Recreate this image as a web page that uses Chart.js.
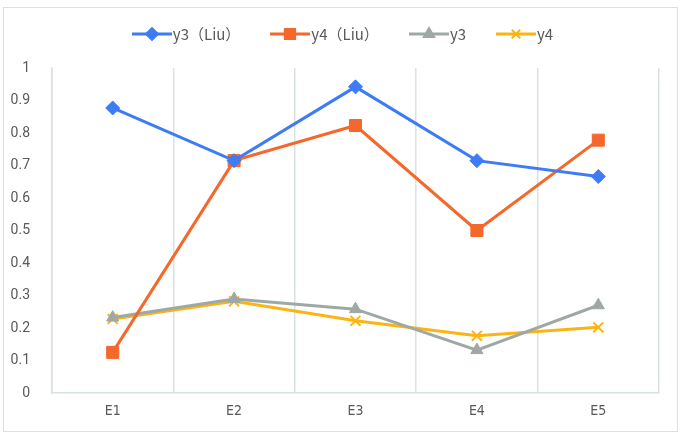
<!DOCTYPE html>
<html>
<head>
<meta charset="utf-8">
<script src="https://cdn.jsdelivr.net/npm/chart.js@4"></script>
<style>
  html, body { margin: 0; padding: 0; background: #fff; }
  #wrap { position: relative; width: 685px; height: 438px; }
  #frame { position: absolute; left: 3px; top: 7px; width: 675px; height: 425px;
           border: 1.5px solid #d9e2de; box-sizing: border-box; }
  #legend { position: absolute; top: 23px; left: 0; width: 685px; display: flex;
            justify-content: center; font-family: "Noto Sans CJK SC", "Noto Sans", sans-serif;
            font-size: 15px; color: #595959; }
  .item { display: flex; align-items: center; margin: 0 15px; }
  .item canvas { margin-right: 1px; }
</style>
</head>
<body>
<div id="wrap">
  <div id="frame"></div>
  <div id="legend"></div>
  <canvas id="chart" width="685" height="438"></canvas>
</div>
<script>
const categories = ['E1', 'E2', 'E3', 'E4', 'E5'];
const y3Liu = [0.877, 0.715, 0.942, 0.715, 0.666];
const y4Liu = [0.125, 0.715, 0.823, 0.500, 0.778];
const y3 = [0.232, 0.289, 0.258, 0.132, 0.270];
const y4 = [0.228, 0.282, 0.222, 0.176, 0.202];
const yTicks = [0, 0.1, 0.2, 0.3, 0.4, 0.5, 0.6, 0.7, 0.8, 0.9, 1];

const series = [
  { label: 'y3（Liu）', data: y3Liu, color: '#3d7cf5', style: 'rectRot', radius: 7 },
  { label: 'y4（Liu）', data: y4Liu, color: '#f4682c', style: 'rect', radius: 8.5 },
  { label: 'y3', data: y3, color: '#9ea9a5', style: 'triangle', radius: 7 },
  { label: 'y4', data: y4, color: '#fbb416', style: 'crossRot', radius: 7 }
];

// html legend: line with marker, then the text
const legendEl = document.getElementById('legend');
series.forEach(s => {
  const item = document.createElement('div');
  item.className = 'item';
  const c = document.createElement('canvas');
  c.width = 40; c.height = 16;
  const ctx = c.getContext('2d');
  ctx.strokeStyle = s.color;
  ctx.lineWidth = 3;
  ctx.beginPath(); ctx.moveTo(0, 8); ctx.lineTo(40, 8); ctx.stroke();
  ctx.fillStyle = s.color;
  ctx.lineWidth = 2;
  Chart.helpers.drawPoint(ctx, { pointStyle: s.style, radius: s.radius * 0.85, borderWidth: 2 }, 20, 8);
  if (s.style !== 'crossRot') ctx.fill();
  item.appendChild(c);
  const t = document.createElement('span');
  t.textContent = s.label;
  item.appendChild(t);
  legendEl.appendChild(item);
});

const tickFont = { family: 'Roboto, "Noto Sans", sans-serif', size: 14 };
const gridColor = '#d9e2de';

new Chart(document.getElementById('chart'), {
  type: 'line',
  data: {
    labels: categories,
    datasets: series.map(s => ({
      label: s.label,
      data: s.data,
      borderColor: s.color,
      backgroundColor: s.color,
      borderWidth: 3,
      pointStyle: s.style,
      pointRadius: s.radius,
      pointBorderWidth: s.style === 'crossRot' ? 2 : 1,
      pointBorderColor: s.color,
      pointBackgroundColor: s.color,
      fill: false,
      tension: 0
    }))
  },
  options: {
    responsive: false,
    animation: false,
    layout: { padding: { left: 0, right: 26, top: 68, bottom: 0 } },
    plugins: { legend: { display: false }, tooltip: { enabled: false } },
    scales: {
      x: {
        offset: true,
        grid: { offset: true, color: gridColor, lineWidth: 1.5, drawTicks: false },
        border: { color: gridColor, width: 1.5 },
        ticks: { color: '#595959', font: { family: '"DejaVu Sans Condensed", "DejaVu Sans", sans-serif', size: 14 }, padding: 10 },
        afterFit: s => { s.height = 45; }
      },
      y: {
        min: 0,
        max: 1,
        afterBuildTicks: s => { s.ticks = yTicks.map(v => ({ value: v })); },
        grid: { display: false },
        border: { color: gridColor, width: 1.5 },
        ticks: { color: '#595959', font: tickFont, padding: 14,
                 callback: v => String(Math.round(v * 10) / 10) },
        afterFit: s => { s.width = 52; }
      }
    }
  }
});
</script>
</body>
</html>
